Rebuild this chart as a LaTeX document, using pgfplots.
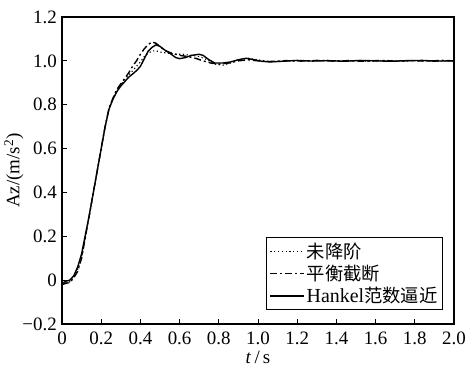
\documentclass[border=0pt]{standalone}
\usepackage{pgfplots}
\pgfplotsset{compat=1.18}
\usepackage{fontspec}
\setmainfont{Liberation Serif}
\newfontfamily\cjk[Scale=0.92]{Noto Sans CJK SC}
\pgfplotstableread{
x y
0 -0.015
0.02 -0.005
0.04 0.0
0.06 0.02
0.08 0.06
0.10 0.12
0.12 0.21
0.14 0.30
0.16 0.40
0.18 0.50
0.20 0.60
0.22 0.70
0.24 0.78
0.26 0.825
0.28 0.86
0.30 0.885
0.32 0.905
0.34 0.925
0.36 0.94
0.38 0.955
0.40 0.975
0.42 1.01
0.44 1.045
0.46 1.062
0.48 1.073
0.50 1.066
0.52 1.052
0.55 1.035
0.58 1.015
0.60 1.010
0.63 1.015
0.66 1.025
0.70 1.030
0.72 1.025
0.75 1.005
0.78 0.990
0.82 0.990
0.86 0.995
0.90 1.005
0.94 1.012
0.98 1.005
1.02 0.998
1.06 0.995
1.12 0.998
1.20 1.002
1.28 0.999
1.36 1.001
1.44 0.998
1.52 1.002
1.60 1.000
1.68 0.998
1.76 1.001
1.84 1.002
1.90 0.999
2.00 1.000
}\hankel
\pgfplotstableread{
x y
0 -0.02
0.02 -0.015
0.04 -0.01
0.06 0.01
0.08 0.04
0.10 0.10
0.12 0.20
0.14 0.30
0.16 0.40
0.18 0.50
0.20 0.60
0.22 0.70
0.24 0.785
0.26 0.83
0.28 0.87
0.30 0.895
0.32 0.92
0.34 0.945
0.36 0.975
0.38 1.00
0.40 1.03
0.42 1.055
0.44 1.075
0.46 1.086
0.48 1.080
0.50 1.065
0.53 1.045
0.56 1.035
0.60 1.025
0.64 1.020
0.68 1.012
0.72 1.000
0.76 0.990
0.80 0.985
0.85 0.990
0.90 1.000
0.95 1.005
1.00 1.000
1.06 0.997
1.14 1.001
1.22 0.999
1.30 1.002
1.38 0.999
1.46 1.001
1.54 0.998
1.62 1.002
1.70 0.999
1.78 1.001
1.86 0.999
1.94 1.002
2.00 1.000
}\balanced
\pgfplotstableread{
x y
0 -0.02
0.02 -0.012
0.04 -0.008
0.06 0.012
0.08 0.05
0.10 0.10
0.12 0.20
0.14 0.30
0.16 0.40
0.18 0.50
0.20 0.60
0.22 0.70
0.24 0.785
0.26 0.83
0.28 0.865
0.30 0.89
0.32 0.912
0.34 0.935
0.36 0.955
0.38 0.975
0.40 0.995
0.42 1.02
0.44 1.035
0.46 1.045
0.48 1.046
0.50 1.040
0.54 1.035
0.58 1.030
0.62 1.030
0.66 1.025
0.70 1.020
0.74 1.005
0.78 0.985
0.82 0.980
0.86 0.990
0.90 1.005
0.95 1.012
1.00 1.005
1.05 0.998
1.10 0.996
1.18 1.001
1.26 0.999
1.34 1.002
1.42 0.999
1.50 1.001
1.58 0.998
1.66 1.002
1.74 0.999
1.82 1.001
1.90 0.998
2.00 1.000
}\original
\begin{document}
\begin{tikzpicture}
\begin{axis}[
  scale only axis,
  width=392bp, height=307bp,
  xmin=0, xmax=2, ymin=-0.2, ymax=1.2,
  xtick={0,0.2,...,2.0},
  xticklabels={0,0.2,0.4,0.6,0.8,1.0,1.2,1.4,1.6,1.8,2.0},
  ytick={-0.2,0,0.2,0.4,0.6,0.8,1.0,1.2},
  yticklabels={−0.2,0,0.2,0.4,0.6,0.8,1.0,1.2},
  xtick pos=left, ytick pos=left,
  tick align=inside,
  major tick length=5bp,
  axis line style={line width=1.5pt},
  tick style={line width=1pt, black},
  tick label style={font=\fontsize{19}{21}\selectfont},
  xticklabel style={anchor=north, inner sep=0pt, yshift=-7.5bp},
  yticklabel style={anchor=east, inner sep=0pt, xshift=-5bp},
  xlabel={\textit{t}\,/\,s},
  ylabel={Az/(m/s\textsuperscript{2})},
  label style={font=\fontsize{19}{21}\selectfont},
  xlabel style={at={([yshift=-33bp]rel axis cs:0.5,0)}, anchor=center},
  ylabel style={at={([xshift=-48bp]rel axis cs:0,0.5)}, anchor=center},
  legend cell align=left,
  legend style={at={(0.972,0.046)}, anchor=south east, draw=black, line width=1pt,
    font=\fontsize{20}{22}\selectfont, inner sep=3.5pt, row sep=2.5pt,
    nodes={inner sep=1.5bp}},
  legend image code/.code={\draw[#1] (0bp,0bp) -- (34bp,0bp);},
]
\addplot[black, line width=1.1pt, dash pattern=on 1.2pt off 2.6pt] table {\original};
\addlegendentry{\cjk 未降阶}
\addplot[black, line width=1.4pt, dash pattern=on 7pt off 3pt on 2pt off 3pt] table {\balanced};
\addlegendentry{\cjk 平衡截断}
\addplot[black, line width=1.4pt] table {\hankel};
\addlegendentry{Hankel{\cjk 范数逼近}}
\end{axis}
\pgfresetboundingbox
\path[use as bounding box] (-62bp,-43bp) rectangle (414bp,324bp);
\end{tikzpicture}
\end{document}
